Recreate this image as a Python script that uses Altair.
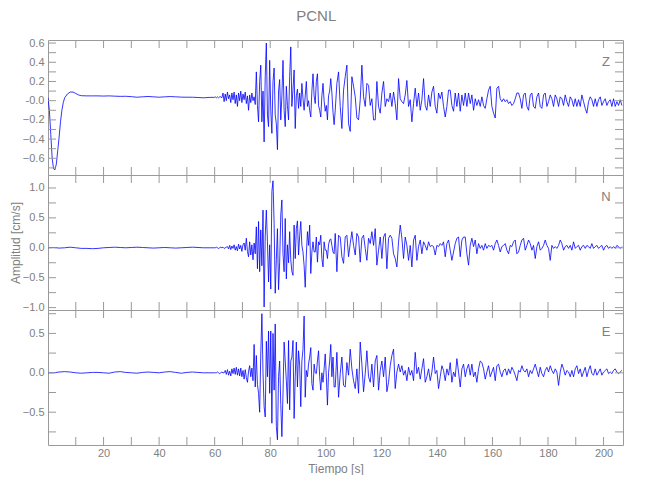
import altair as alt
import pandas as pd

# ---------------- data (amplitudes in hundredths of cm/s) ----------------
Z_QUIET_T = [0, 0.5, 1, 1.5, 2, 2.5, 3, 3.5, 4, 4.5, 5, 5.5, 6, 7, 8, 9, 10, 11, 12,
             14, 16, 18, 20, 22, 24, 26, 28, 30, 32, 34, 36, 38, 40, 42, 44, 46, 48,
             50, 52, 54, 56, 58, 60]
Z_QUIET = [3, -10, -35, -60, -71, -72, -66, -52, -38, -22, -10, -2, 3, 7, 9, 9, 7.5, 6, 5.2,
           5, 5, 5, 4.8, 5, 4.7, 4.5, 4.6, 4.2, 3.6, 4, 4.4, 4, 3.6, 4, 4.3, 4, 3.7,
           3.6, 3.6, 3.3, 3, 3.4, 3.5]
Q_T = [0, 2, 4, 6, 8, 10, 12, 14, 16, 18, 20, 22, 24, 26, 28, 30, 32, 34, 36, 38, 40,
       42, 44, 46, 48, 50, 52, 54, 56, 58, 60]
N_QUIET = [0, 0.5, -0.5, 0, 1, 0, -1, -1, -1.5, -1, 0, 0.5, 1, 0.5, 0, 0.5, 1, 0.5, 0, -0.5,
           0, 0.5, 0, -0.5, 0, 0.5, 1, 0.5, 0, 0, 0]
E_QUIET = [0, 0, 1, 1.5, 1, 0, -0.5, 0, 0.5, 0.5, 0, -0.5, 1, 1.5, 0.5, 0, -0.5, 0.5, 1, 0.5,
           0, 1, 1.5, 0.5, -0.5, 0.5, 1, 0.5, 0, 0, 0]

# strong-motion part: samples from 60.2 s every 0.4 s
DENSE_T0, DENSE_DT = 60.2, 0.4
Z_DENSE = [4, 3, 4, 3, 4, 4, 3,
           8, -1, 7, 0, 9, 2, 6, -2, 8, 1, 9, -3, 6, -6, 8, 0, 10, -2, 7, 1, 9, -3, 5, -10, 6, -2, 8, 0, 4, -4,
           30, -5, -22, 20, 37, -22, 10, -43, 25, 60,
           -15, -27, 42, -10, -34, 20, 34, -15, -24, -51,
           10, 22, -20, 5, 42, -10, -27, 15, -5, -20,
           25, 56, -6, 12, 32, -29, 5, 12, -8, 8,
           -6, 18, 2, -10, 5, 20, -6, 0, -10, -17,
           10, 28, 5, -3, 20, 28, -5, -10, -17, 5,
           18, 0, -11, -5, -20, 5, 10, 23, 8, -12,
           -25]
N_DENSE = [0, 1, 0, -1, 0, 1, 0, 1, -1, 0, 1,
           2, -2, 4, -3, 3, -1, 5, -4, 2, -5, 6, -2, 4, -6, 5,
           8, -4, 16, -6, -15, 10, -12,
           5, -20, 8, -10,
           35, -35, 44, -40, 30, -30, 63, -99, 20, 63, 10, -57, 5, -69, 94, 112,
           40, -76, -20, 32, -70, -24, 55, 80, -10, -40,
           49, -52, 5, -25, 27, -20, -40, -46, 38, -18,
           32, 45, -12, 20, 44, 4, -7, -30, -66, -12,
           27, 4, 38, -43, -7, 10, -7, -7, 18, -24,
           10, 5, 21, -18, -32, 10, -4, -4, -18, 5,
           13, 15, 4, -7, -10]
E_DENSE = [0, 0, 1, 0, -1, 0, 1, 0, 0,
           3, -2, 4, -3, 2, -4, 5, -1, 6, -2, 7, -3, 5, -4, 6, -5, 3, -8, 4, -6, -12, 2,
           9, -5, 6, -10,
           36, -18, 22, -15, -26, -50, 24, 75, 0, -43,
           -56, 40, -5, 53, -26, 53, -64, 50, -22, 62,
           -68, -85, -5, 15, -40, -81, -26, 39, 15, -10,
           -39, 41, -47, 15, 20, 41, -58, -5, 39, -18,
           28, 10, -43, 15, 30, 72, -31, 3, -5, 11,
           20, 32, -14, -22, 11, 0, -1, 15, 28, -5,
           -22, 0, -12, 5, 24, -5, -41, 0, 15, 36,
           -5, 20, -18]

# coda: samples from 103.4 s every 0.6 s
TAIL_T0, TAIL_DT = 103.4, 0.6
Z_TAIL = [-10, 18, 30, -6, -29, 11, 25, 37, -24, -32,
          25, 15, 4, -18, -20, 1, 37, 4, -6, 18,
          16, -5, 2, -20, -20, 20, -6, -13, 8, 20,
          -6, 2, -1, 8, -6, 9, -3, -20, 23, 2,
          -1, -3, 6, 21, -6, 1, -22, -3, 13, -6,
          8, -10, 1, 23, -5, -10, 6, -6, 9, 15,
          -6, -13, 8, 2, 9, -6, -17, -6, 11, 11,
          -5, -11, 8, -6, 8, -11, 6, -5, 8, -6,
          8, -3, 6, -10, 2, -5, 1, -6, 4, -5,
          -8, 2, 11, 15, -6, -13, -18, 13, 15, 2,
          -1, 2, -1, 1, -3, -1, -5, -3, 2, 8,
          8, 2, -8, 6, 8, -6, -10, 6, 8, -6,
          -8, 4, 8, -6, -8, 6, 8, -6, -1, 6,
          2, -6, 6, 2, -6, 4, 2, -5, 6, -1,
          -6, 4, 1, -6, 2, -6, 1, -6, 6, -1,
          -8, -13, -1, 4, 1, -6, 2, -6, 1, 4,
          -5, -1, 2, -5, -1, 1, -6, 2, -6, -1,
          -5, 1, -5]
N_TAIL = [24, -40, 21, 18, -15, -26, 18, 21, -15, 7,
          27, 4, -12, 24, 18, -24, 16, 21, -1, -21,
          16, 7, 27, 4, 32, -29, -4, 18, -18, 18,
          24, -35, 16, 21, 16, -10, -18, -32, 10, 38,
          16, -18, 18, 4, -21, 4, -32, 13, 21, -21,
          2, 13, -10, 10, 4, -4, 10, 2, 4, 2,
          -12, 4, 2, 7, 4, 10, -15, 7, 13, -4,
          -21, -7, 7, 16, 18, -15, 13, 18, 18, -10,
          -29, 4, 16, 2, 13, -10, 7, -1, 4, -4,
          7, -1, 4, 2, 4, -4, 7, 13, 4, -7,
          2, 4, 7, -4, -10, 4, 2, 10, 13, -10,
          -7, 4, 13, 16, -4, 4, 13, 7, -4, 4,
          -18, 2, 10, -4, -1, 4, 13, 4, -1, -21,
          4, -1, 2, -1, 4, 13, 7, -4, 2, 4,
          -1, 4, -4, 10, -1, 2, 4, -4, 2, 4,
          -1, 4, 2, -1, 7, -1, 2, 4, -1, 2,
          4, -4, 2, 4, -1, 2, -1, 2, -1, 4,
          2, -1, 2]
E_TAIL = [-18, 26, -31, -1, 20, -16, -18, 13, -3, 30,
          5, -10, -20, 5, -26, 39, 11, -24, -1, 28,
          -5, -12, 11, -18, 15, 22, -22, 3, 15, -5,
          20, -24, -12, 9, 22, 30, -20, 1, 11, 1,
          9, -3, 3, -10, 7, -3, 3, -10, 26, -1,
          7, -8, 5, 18, -12, -5, 5, -10, 1, 20,
          -1, 3, -20, -5, 9, 3, -10, 5, -3, 13,
          -12, 1, -5, 18, 1, -18, 5, 11, -5, 5,
          11, -3, 11, -5, 1, -12, 5, 15, 13, 5,
          -8, 1, 9, -5, 1, 7, -10, 9, 11, 1,
          -5, 3, 5, -3, 5, -1, 7, 3, -3, -10,
          3, 1, 9, 3, 1, 5, -5, 3, -1, 5,
          11, 3, -5, 7, -1, -5, 3, 7, 1, 9,
          3, -1, 5, 1, -16, 1, 11, 5, -3, 3,
          1, -5, 3, -5, 5, 9, -1, 5, -5, 1,
          7, -5, 3, 9, -1, -3, 5, -3, 1, 5,
          -3, 1, 3, 5, -1, 1, -1, 3, 5, 1,
          -1, 1, 3]

X_LABELS = [20, 40, 60, 80, 100, 120, 140, 160, 180, 200]
X_TICKS = [10, 20, 30, 40, 50, 60, 70, 80, 90, 100, 110, 120, 130, 140, 150, 160, 170, 180, 190, 200]

# ---------------- style ----------------
FONT = "Liberation Sans"
GRAY = "#808080"
FRAME = "#9a9a9a"
W, H = 575, 135
TL = 8


def build(qt, qv, dense, tail):
    assert len(qt) == len(qv)
    t = list(qt) + [round(DENSE_T0 + DENSE_DT * i, 2) for i in range(len(dense))] \
        + [round(TAIL_T0 + TAIL_DT * j, 2) for j in range(len(tail))]
    v = [x / 100.0 for x in list(qv) + list(dense) + list(tail)]
    return pd.DataFrame({"t": t, "v": v})


def panel(df, domain, label_vals, tick_vals, label, bottom, ytitle=None, zero_minus=False):
    xs = alt.Scale(domain=[0, 207], nice=False, zero=False)
    ys = alt.Scale(domain=domain, nice=False, zero=False)
    if zero_minus:
        lexpr = "datum.value == 0 ? '-0.0' : format(datum.value, '.1f')"
    else:
        lexpr = "format(datum.value, '.1f')"
    yaxis = alt.Axis(values=label_vals, labelExpr=lexpr, ticks=False, domain=False, grid=False,
                     labelPadding=4, minExtent=23, maxExtent=23,
                     title=ytitle if ytitle else None, titlePadding=3)
    if bottom:
        xaxis = alt.Axis(values=X_LABELS, format="d", ticks=False, domain=False, grid=False,
                         labelPadding=2, title="Tiempo [s]", titlePadding=5)
    else:
        xaxis = None
    line = alt.Chart(df).mark_line(color="#0000ff", strokeWidth=0.8, clip=True).encode(
        x=alt.X("t:Q", scale=xs, axis=xaxis),
        y=alt.Y("v:Q", scale=ys, axis=yaxis),
        order="t:Q",
    )
    xt = pd.DataFrame({"t": X_TICKS})
    yt = pd.DataFrame({"v": tick_vals})
    top_t = alt.Chart(xt).mark_rule(color=FRAME).encode(
        x=alt.X("t:Q", scale=xs, axis=xaxis), y=alt.value(0), y2=alt.value(TL))
    bot_t = alt.Chart(xt).mark_rule(color=FRAME).encode(
        x=alt.X("t:Q", scale=xs, axis=xaxis), y=alt.value(H - TL), y2=alt.value(H))
    left_t = alt.Chart(yt).mark_rule(color=FRAME).encode(
        y=alt.Y("v:Q", scale=ys, axis=yaxis), x=alt.value(0), x2=alt.value(TL))
    right_t = alt.Chart(yt).mark_rule(color=FRAME).encode(
        y=alt.Y("v:Q", scale=ys, axis=yaxis), x=alt.value(W - TL), x2=alt.value(W))
    txt = alt.Chart(pd.DataFrame({"s": [label]})).mark_text(
        font=FONT, fontSize=13, color=GRAY, align="center", baseline="middle").encode(
        text="s:N", x=alt.value(W - 17), y=alt.value(22))
    return alt.layer(line, top_t, bot_t, left_t, right_t, txt).properties(width=W, height=H)


z = build(Z_QUIET_T, Z_QUIET, Z_DENSE, Z_TAIL)
n = build(Q_T, N_QUIET, N_DENSE, N_TAIL)
e = build(Q_T, E_QUIET, E_DENSE, E_TAIL)

p1 = panel(z, [-0.774, 0.632], [-0.6, -0.4, -0.2, 0, 0.2, 0.4, 0.6],
           [-0.7, -0.6, -0.5, -0.4, -0.3, -0.2, -0.1, 0, 0.1, 0.2, 0.3, 0.4, 0.5, 0.6],
           "Z", False, zero_minus=True)
p2 = panel(n, [-1.04, 1.217], [-1.0, -0.5, 0, 0.5, 1.0],
           [-1.0, -0.75, -0.5, -0.25, 0, 0.25, 0.5, 0.75, 1.0],
           "N", False, ytitle="Amplitud [cm/s]")
p3 = panel(e, [-0.916, 0.797], [-0.5, 0, 0.5],
           [-0.75, -0.5, -0.25, 0, 0.25, 0.5, 0.75],
           "E", True)

chart = alt.vconcat(p1, p2, p3, spacing=0, bounds="flush", padding=0).properties(
    title=alt.TitleParams("PCNL", font=FONT, fontSize=15, fontWeight="normal", color=GRAY,
                          anchor="middle", offset=13)
).configure_view(stroke=FRAME, strokeWidth=1).configure_axis(
    labelFont=FONT, titleFont=FONT, labelFontSize=11, titleFontSize=12,
    labelColor=GRAY, titleColor=GRAY, titleFontWeight="normal"
)

chart.save("out.html", embed_options={"renderer": "svg", "actions": False})
